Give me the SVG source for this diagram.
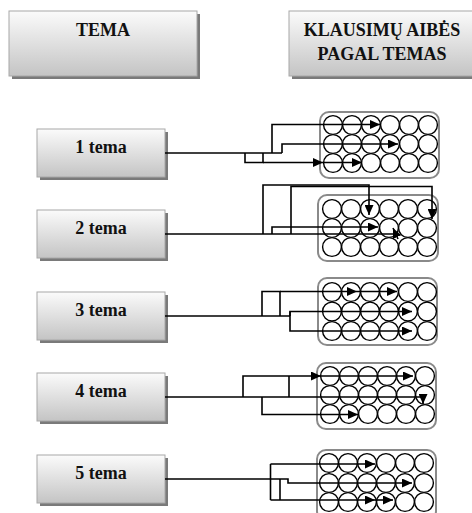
<svg xmlns="http://www.w3.org/2000/svg" width="472" height="513" viewBox="0 0 472 513">
<defs>
<linearGradient id="bg" x1="0" y1="0" x2="0" y2="1">
<stop offset="0" stop-color="#fbfbfb"/>
<stop offset="1" stop-color="#c4c4c4"/>
</linearGradient>
<marker id="ah" markerWidth="10" markerHeight="9" refX="10" refY="4.5" orient="auto" markerUnits="userSpaceOnUse">
<path d="M0,0 L10,4.5 L0,9 z" fill="#000"/>
</marker>
</defs>
<style>
.sh{fill:#7a7a7a}
.bx{fill:url(#bg);stroke:#a8a8a8;stroke-width:1}
.t{font-family:'Liberation Serif','Times New Roman','DejaVu Serif',serif;font-weight:bold;font-size:18px;fill:#111;text-anchor:middle}
.grp{fill:#fff;stroke:#8a8a8a;stroke-width:2}
.c{fill:#fff;stroke:#000;stroke-width:1.4}
.ln{fill:none;stroke:#000;stroke-width:1.6}
.ar{fill:none;stroke:#000;stroke-width:1.6;marker-end:url(#ah)}
</style>

<g id="hdr-tema">
<rect class="sh" x="12" y="14" width="188" height="65"/>
<rect class="bx" x="9" y="11" width="188" height="65"/>
<text class="t" font-family="Liberation Serif, serif" x="103" y="36">TEMA</text>
</g>
<g id="hdr-klausimu">
<rect class="sh" x="292" y="14" width="183" height="65"/>
<rect class="bx" x="289" y="11" width="186" height="65"/>
<text class="t" font-family="Liberation Serif, serif" x="382" y="36">KLAUSIMŲ AIBĖS</text>
<text class="t" font-family="Liberation Serif, serif" x="382" y="60">PAGAL TEMAS</text>
</g>

<g id="tema1">
<rect class="sh" x="40" y="132" width="128" height="48"/>
<rect class="bx" x="37" y="129" width="128" height="48"/>
<text class="t" font-family="Liberation Serif, serif" x="101" y="153">1 tema</text>
</g>
<g id="tema2">
<rect class="sh" x="40" y="213" width="128" height="48"/>
<rect class="bx" x="37" y="210" width="128" height="48"/>
<text class="t" font-family="Liberation Serif, serif" x="101" y="234">2 tema</text>
</g>
<g id="tema3">
<rect class="sh" x="40" y="295" width="128" height="48"/>
<rect class="bx" x="37" y="292" width="128" height="48"/>
<text class="t" font-family="Liberation Serif, serif" x="101" y="316">3 tema</text>
</g>
<g id="tema4">
<rect class="sh" x="40" y="376" width="128" height="48"/>
<rect class="bx" x="37" y="373" width="128" height="48"/>
<text class="t" font-family="Liberation Serif, serif" x="101" y="397">4 tema</text>
</g>
<g id="tema5">
<rect class="sh" x="40" y="458" width="128" height="48"/>
<rect class="bx" x="37" y="455" width="128" height="48"/>
<text class="t" font-family="Liberation Serif, serif" x="101" y="479">5 tema</text>
</g>

<g id="set1">
<rect class="grp" x="320" y="112" width="119" height="66" rx="9"/>
<g class="c">
<circle cx="333" cy="125" r="9.4"/><circle cx="352" cy="125" r="9.4"/><circle cx="371" cy="125" r="9.4"/><circle cx="390" cy="125" r="9.4"/><circle cx="409" cy="125" r="9.4"/><circle cx="428" cy="125" r="9.4"/>
<circle cx="333" cy="144" r="9.4"/><circle cx="352" cy="144" r="9.4"/><circle cx="371" cy="144" r="9.4"/><circle cx="390" cy="144" r="9.4"/><circle cx="409" cy="144" r="9.4"/><circle cx="428" cy="144" r="9.4"/>
<circle cx="333" cy="163" r="9.4"/><circle cx="352" cy="163" r="9.4"/><circle cx="371" cy="163" r="9.4"/><circle cx="390" cy="163" r="9.4"/><circle cx="409" cy="163" r="9.4"/><circle cx="428" cy="163" r="9.4"/>
</g>
</g>
<g id="set2">
<rect class="grp" x="318" y="195" width="120" height="66" rx="9"/>
<g class="c">
<circle cx="332" cy="209" r="9.4"/><circle cx="351" cy="209" r="9.4"/><circle cx="370" cy="209" r="9.4"/><circle cx="389" cy="209" r="9.4"/><circle cx="408" cy="209" r="9.4"/><circle cx="427" cy="209" r="9.4"/>
<circle cx="332" cy="228" r="9.4"/><circle cx="351" cy="228" r="9.4"/><circle cx="370" cy="228" r="9.4"/><circle cx="389" cy="228" r="9.4"/><circle cx="408" cy="228" r="9.4"/><circle cx="427" cy="228" r="9.4"/>
<circle cx="332" cy="247" r="9.4"/><circle cx="351" cy="247" r="9.4"/><circle cx="370" cy="247" r="9.4"/><circle cx="389" cy="247" r="9.4"/><circle cx="408" cy="247" r="9.4"/><circle cx="427" cy="247" r="9.4"/>
</g>
</g>
<g id="set3">
<rect class="grp" x="318" y="278" width="119" height="67" rx="9"/>
<g class="c">
<circle cx="332" cy="292" r="9.4"/><circle cx="351" cy="292" r="9.4"/><circle cx="370" cy="292" r="9.4"/><circle cx="389" cy="292" r="9.4"/><circle cx="408" cy="292" r="9.4"/><circle cx="427" cy="292" r="9.4"/>
<circle cx="332" cy="311.5" r="9.4"/><circle cx="351" cy="311.5" r="9.4"/><circle cx="370" cy="311.5" r="9.4"/><circle cx="389" cy="311.5" r="9.4"/><circle cx="408" cy="311.5" r="9.4"/><circle cx="427" cy="311.5" r="9.4"/>
<circle cx="332" cy="331" r="9.4"/><circle cx="351" cy="331" r="9.4"/><circle cx="370" cy="331" r="9.4"/><circle cx="389" cy="331" r="9.4"/><circle cx="408" cy="331" r="9.4"/><circle cx="427" cy="331" r="9.4"/>
</g>
</g>
<g id="set4">
<rect class="grp" x="317" y="363" width="119" height="66" rx="9"/>
<g class="c">
<circle cx="330" cy="376" r="9.4"/><circle cx="349" cy="376" r="9.4"/><circle cx="368" cy="376" r="9.4"/><circle cx="387" cy="376" r="9.4"/><circle cx="406" cy="376" r="9.4"/><circle cx="425" cy="376" r="9.4"/>
<circle cx="330" cy="395" r="9.4"/><circle cx="349" cy="395" r="9.4"/><circle cx="368" cy="395" r="9.4"/><circle cx="387" cy="395" r="9.4"/><circle cx="406" cy="395" r="9.4"/><circle cx="425" cy="395" r="9.4"/>
<circle cx="330" cy="414" r="9.4"/><circle cx="349" cy="414" r="9.4"/><circle cx="368" cy="414" r="9.4"/><circle cx="387" cy="414" r="9.4"/><circle cx="406" cy="414" r="9.4"/><circle cx="425" cy="414" r="9.4"/>
</g>
</g>
<g id="set5">
<rect class="grp" x="317" y="450" width="119" height="70" rx="9"/>
<g class="c">
<circle cx="329" cy="463" r="9.4"/><circle cx="348" cy="463" r="9.4"/><circle cx="367" cy="463" r="9.4"/><circle cx="386" cy="463" r="9.4"/><circle cx="405" cy="463" r="9.4"/><circle cx="424" cy="463" r="9.4"/>
<circle cx="329" cy="483" r="9.4"/><circle cx="348" cy="483" r="9.4"/><circle cx="367" cy="483" r="9.4"/><circle cx="386" cy="483" r="9.4"/><circle cx="405" cy="483" r="9.4"/><circle cx="424" cy="483" r="9.4"/>
<circle cx="329" cy="502" r="9.4"/><circle cx="348" cy="502" r="9.4"/><circle cx="367" cy="502" r="9.4"/><circle cx="386" cy="502" r="9.4"/><circle cx="405" cy="502" r="9.4"/><circle cx="424" cy="502" r="9.4"/>
</g>
</g>

<g id="connectors">
<path class="ln" d="M165,153 H282"/>
<path class="ar" d="M272,153 V124.5 H380"/>
<path class="ar" d="M282,153 V144 H398"/>
<path class="ln" d="M245,153 V162.5 H263 V153"/>
<path class="ar" d="M263,162.5 H323"/>
<path class="ar" d="M323,162.5 H362"/>

<path class="ln" d="M165,234 H398"/>
<path class="ar" d="M398,239 L393,228"/>
<path class="ar" d="M263,234 V185 H369 V215"/>
<path class="ar" d="M291,234 V186.5 H432 V219"/>
<path class="ar" d="M272,234 V227 H378"/>

<path class="ln" d="M165,316 H290"/>
<path class="ar" d="M290,316 V311.5 H412"/>
<path class="ar" d="M290,311.5 V331 H412"/>
<path class="ln" d="M262,316 V291.5 H280 V316"/>
<path class="ar" d="M280,291.5 H357"/>
<path class="ar" d="M357,291.5 H397"/>

<path class="ar" d="M165,397 H423 V404"/>
<path class="ar" d="M243,397 V376 H321"/>
<path class="ar" d="M321,376 H413"/>
<path class="ln" d="M289,397 V376"/>
<path class="ar" d="M262,397 V414.5 H358"/>

<path class="ar" d="M165,479 H288 V483 H412"/>
<path class="ln" d="M270.5,500 V464"/>
<path class="ar" d="M270.5,464 H375"/>
<path class="ar" d="M270.5,500 H375"/>
<path class="ar" d="M375,500 H393"/>
<path class="ln" d="M280,479 V500"/>
</g>
</svg>
